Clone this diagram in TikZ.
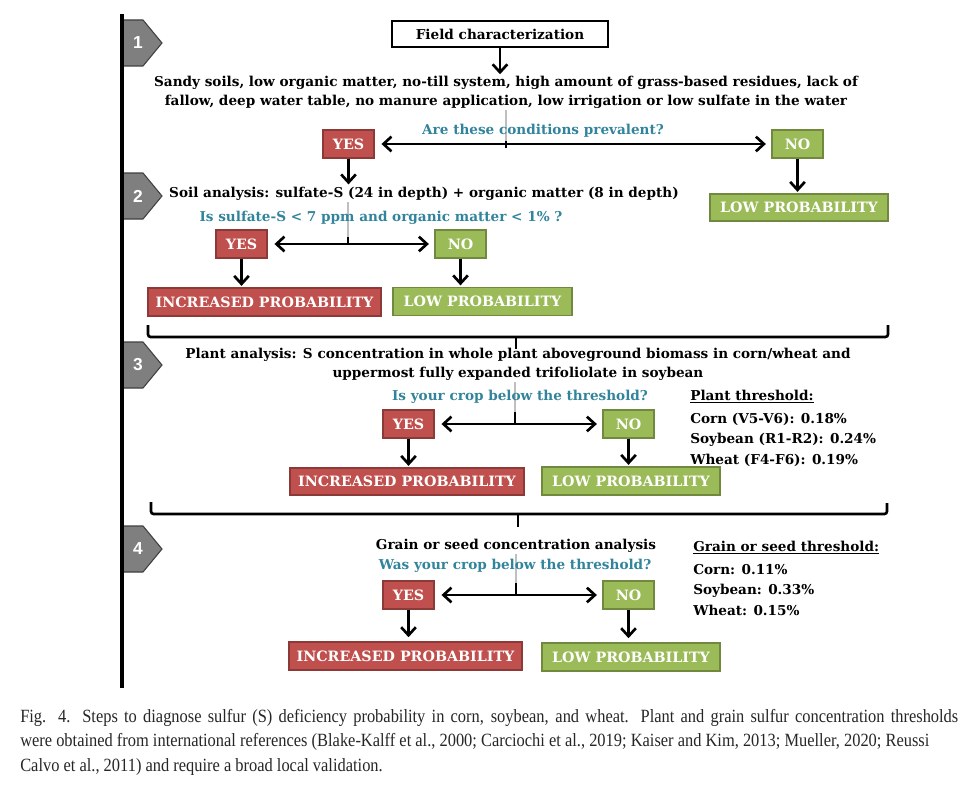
\documentclass[tikz,border=0pt]{standalone}
\usepackage{fontspec}
\setmainfont{DejaVu Serif}
\newfontfamily\capfont[FakeStretch=0.88]{Liberation Serif}
\newfontfamily\numfont{Liberation Sans}
\usetikzlibrary{arrows.meta}
\definecolor{tealq}{HTML}{31849B}
\definecolor{redf}{HTML}{C0504D}
\definecolor{redd}{HTML}{8C3A38}
\definecolor{grnf}{HTML}{9BBB59}
\definecolor{grnd}{HTML}{71893F}
\definecolor{badgef}{HTML}{7F7F7F}
\definecolor{badged}{HTML}{404040}
\newcommand\mf{\fontsize{10.2pt}{14.2pt}\selectfont\bfseries}
\newcommand\bxf{\fontsize{10.7pt}{14pt}\selectfont\bfseries}
\begin{document}
\begin{tikzpicture}[x=0.75pt,y=-0.75pt,
  txt/.style={font=\mf, inner sep=1pt, align=center},
  qtxt/.style={font=\mf, text=tealq, inner sep=1pt},
  redbox/.style={fill=redf, draw=redd, line width=1.2pt, text=white, font=\bxf, inner sep=0pt, minimum height=21pt},
  grnbox/.style={fill=grnf, draw=grnd, line width=1.2pt, text=white, font=\bxf, inner sep=0pt, minimum height=21pt},
  arr/.style={line width=2pt, -{Straight Barb[length=6pt,width=11pt]}},
  darr/.style={line width=2pt, {Straight Barb[length=6pt,width=11pt]}-{Straight Barb[length=6pt,width=11pt]}, shorten <=5pt, shorten >=4pt},
  gstem/.style={line width=2.2pt, draw=black!25},
  bstem/.style={line width=2pt},
  brk/.style={line width=2pt, rounded corners=2pt},
  badge/.style={fill=badgef, draw=badged, line width=0.8pt},
  bnum/.style={text=white, font=\numfont\fontsize{13pt}{13pt}\selectfont\bfseries},
  thr/.style={font=\mf, align=left, inner sep=0pt, anchor=north west}
]
\useasboundingbox (0,0) rectangle (980,788);

% badges
\foreach \yy/\nn in {43/1,196/2,365/3,549/4}{
  \draw[badge] (122,\yy-23) -- (143,\yy-23) -- (162,\yy) -- (143,\yy+23) -- (122,\yy+23) -- cycle;
  \node[bnum] (badge\nn) at (138,\yy) {\nn};
}
\coordinate (vtop) at (122,14);
\coordinate (vbot) at (122,688);
\draw[line width=2.4pt] (vtop) -- (vbot);

% ---------- step 1
\node[draw, line width=1.5pt, fill=white, font=\mf, minimum width=162pt, minimum height=19.5pt, inner sep=0pt] (field) at (500,34) {Field characterization};
\node[txt] (cond) at (506,92) {Sandy soils, low organic matter, no-till system, high amount of grass-based residues, lack of\\fallow, deep water table, no manure application, low irrigation or low sulfate in the water};
\draw[arr] (field.south) -- (field.south |- cond.north);

\coordinate (c1) at (506,148);
\draw[gstem] (cond.south -| c1) -- (c1);
\node[qtxt] (q1) at (543,131) {Are these conditions prevalent?};
\draw[bstem] (c1) -- ++(0,-7);

\node[redbox, minimum width=38.25pt] (yes1) at (348.5,144) {YES};
\node[grnbox, minimum width=38.25pt] (no1) at (797.5,144) {NO};
\node[grnbox, minimum width=133.5pt, minimum height=20.25pt] (low1) at (799,207.5) {LOW PROBABILITY};
\draw[darr] (yes1.east) -- (no1.west);
\draw[arr, shorten >=1pt] (no1.south) -- (no1.south |- low1.north);

% ---------- step 2
\node[txt] (soil) at (424,194) {Soil analysis: sulfate-S (24 in depth) + organic matter (8 in depth)};
\draw[arr, shorten >=1pt] (yes1.south) -- (yes1.south |- soil.north);
\coordinate (c2) at (348,244);
\draw[gstem] (soil.south -| c2) -- (c2);
\node[qtxt] (q2) at (381,218) {Is sulfate-S < 7 ppm and organic matter < 1\% ?};
\draw[bstem] (c2) -- ++(0,-7);
\node[redbox, minimum width=38.25pt] (yes2) at (241.5,244) {YES};
\node[grnbox, minimum width=38.25pt] (no2) at (460.5,244) {NO};
\draw[darr] (yes2.east) -- (no2.west);
\node[redbox, minimum width=174.75pt] (inc2) at (264.5,302) {INCREASED PROBABILITY};
\node[grnbox, minimum width=134.25pt] (low2) at (482.5,301.5) {LOW PROBABILITY};
\draw[arr, shorten >=1pt] (yes2.south) -- (yes2.south |- inc2.north);
\draw[arr, shorten >=1pt] (no2.south) -- (no2.south |- low2.north);

% bracket 1
\coordinate (b1a) at (148,325);
\coordinate (b1b) at (148,337);
\coordinate (b1c) at (888,337);
\coordinate (b1d) at (888,325);
\coordinate (b1s) at (516,337);
\coordinate (b1t) at (516,349);
\draw[brk] (b1a) -- (b1b) -- (b1c) -- (b1d);
\draw[bstem] (b1s) -- (b1t);

% ---------- step 3
\node[txt] (plant) at (518,364) {Plant analysis: S concentration in whole plant aboveground biomass in corn/wheat and\\uppermost fully expanded trifoliolate in soybean};
\coordinate (c3) at (515,424);
\draw[gstem] (plant.south -| c3) -- (c3);
\node[qtxt] (q3) at (520,397) {Is your crop below the threshold?};
\draw[bstem] (c3) -- ++(0,-12);
\node[redbox, minimum width=38.25pt] (yes3) at (408.5,424) {YES};
\node[grnbox, minimum width=38.25pt] (no3) at (628.5,424) {NO};
\draw[darr] (yes3.east) -- (no3.west);
\node[redbox, minimum width=175.5pt, minimum height=20.25pt] (inc3) at (407,481.5) {INCREASED PROBABILITY};
\node[grnbox, minimum width=133.5pt] (low3) at (631,481) {LOW PROBABILITY};
\draw[arr, shorten >=1pt] (yes3.south) -- (yes3.south |- inc3.north);
\draw[arr, shorten >=1pt] (no3.south) -- (no3.south |- low3.north);
\node[thr] (pthr) at (690,390) {\underline{Plant threshold:}\\[3pt]Corn (V5-V6): 0.18\%\\[1pt]Soybean (R1-R2): 0.24\%\\[1pt]Wheat (F4-F6): 0.19\%};

% bracket 2
\coordinate (b2a) at (151,502);
\coordinate (b2b) at (151,514);
\coordinate (b2c) at (887,514);
\coordinate (b2d) at (887,503);
\coordinate (b2s) at (518,514);
\coordinate (b2t) at (518,527);
\draw[brk] (b2a) -- (b2b) -- (b2c) -- (b2d);
\draw[bstem] (b2s) -- (b2t);

% ---------- step 4
\node[txt] (grain) at (516,546) {Grain or seed concentration analysis};
\coordinate (c4) at (516,595);
\draw[gstem] (grain.south -| c4) -- (c4);
\node[qtxt] (q4) at (515,566) {Was your crop below the threshold?};
\draw[bstem] (c4) -- ++(0,-12);
\node[redbox, minimum width=38.25pt] (yes4) at (408.5,595) {YES};
\node[grnbox, minimum width=38.25pt] (no4) at (628.5,595) {NO};
\draw[darr] (yes4.east) -- (no4.west);
\node[redbox, minimum width=174.75pt] (inc4) at (405.5,656) {INCREASED PROBABILITY};
\node[grnbox, minimum width=133.5pt] (low4) at (631,657) {LOW PROBABILITY};
\draw[arr, shorten >=3pt] (yes4.south) -- (yes4.south |- inc4.north);
\draw[arr, shorten >=3pt] (no4.south) -- (no4.south |- low4.north);
\node[thr] (gthr) at (693,541) {\underline{Grain or seed threshold:}\\[3pt]Corn: 0.11\%\\[1pt]Soybean: 0.33\%\\[1pt]Wheat: 0.15\%};

% caption
\node[anchor=north west, inner sep=0pt, align=left, text=black!85, font=\capfont\fontsize{14pt}{18.4pt}\selectfont] (cap) at (20,709) {\makebox[703.5pt][s]{Fig. 4. Steps to diagnose sulfur (S) deficiency probability in corn, soybean, and wheat. Plant and grain sulfur concentration thresholds}\\were obtained from international references (Blake-Kalff et al., 2000; Carciochi et al., 2019; Kaiser and Kim, 2013; Mueller, 2020; Reussi\\Calvo et al., 2011) and require a broad local validation.};
\end{tikzpicture}
\end{document}
